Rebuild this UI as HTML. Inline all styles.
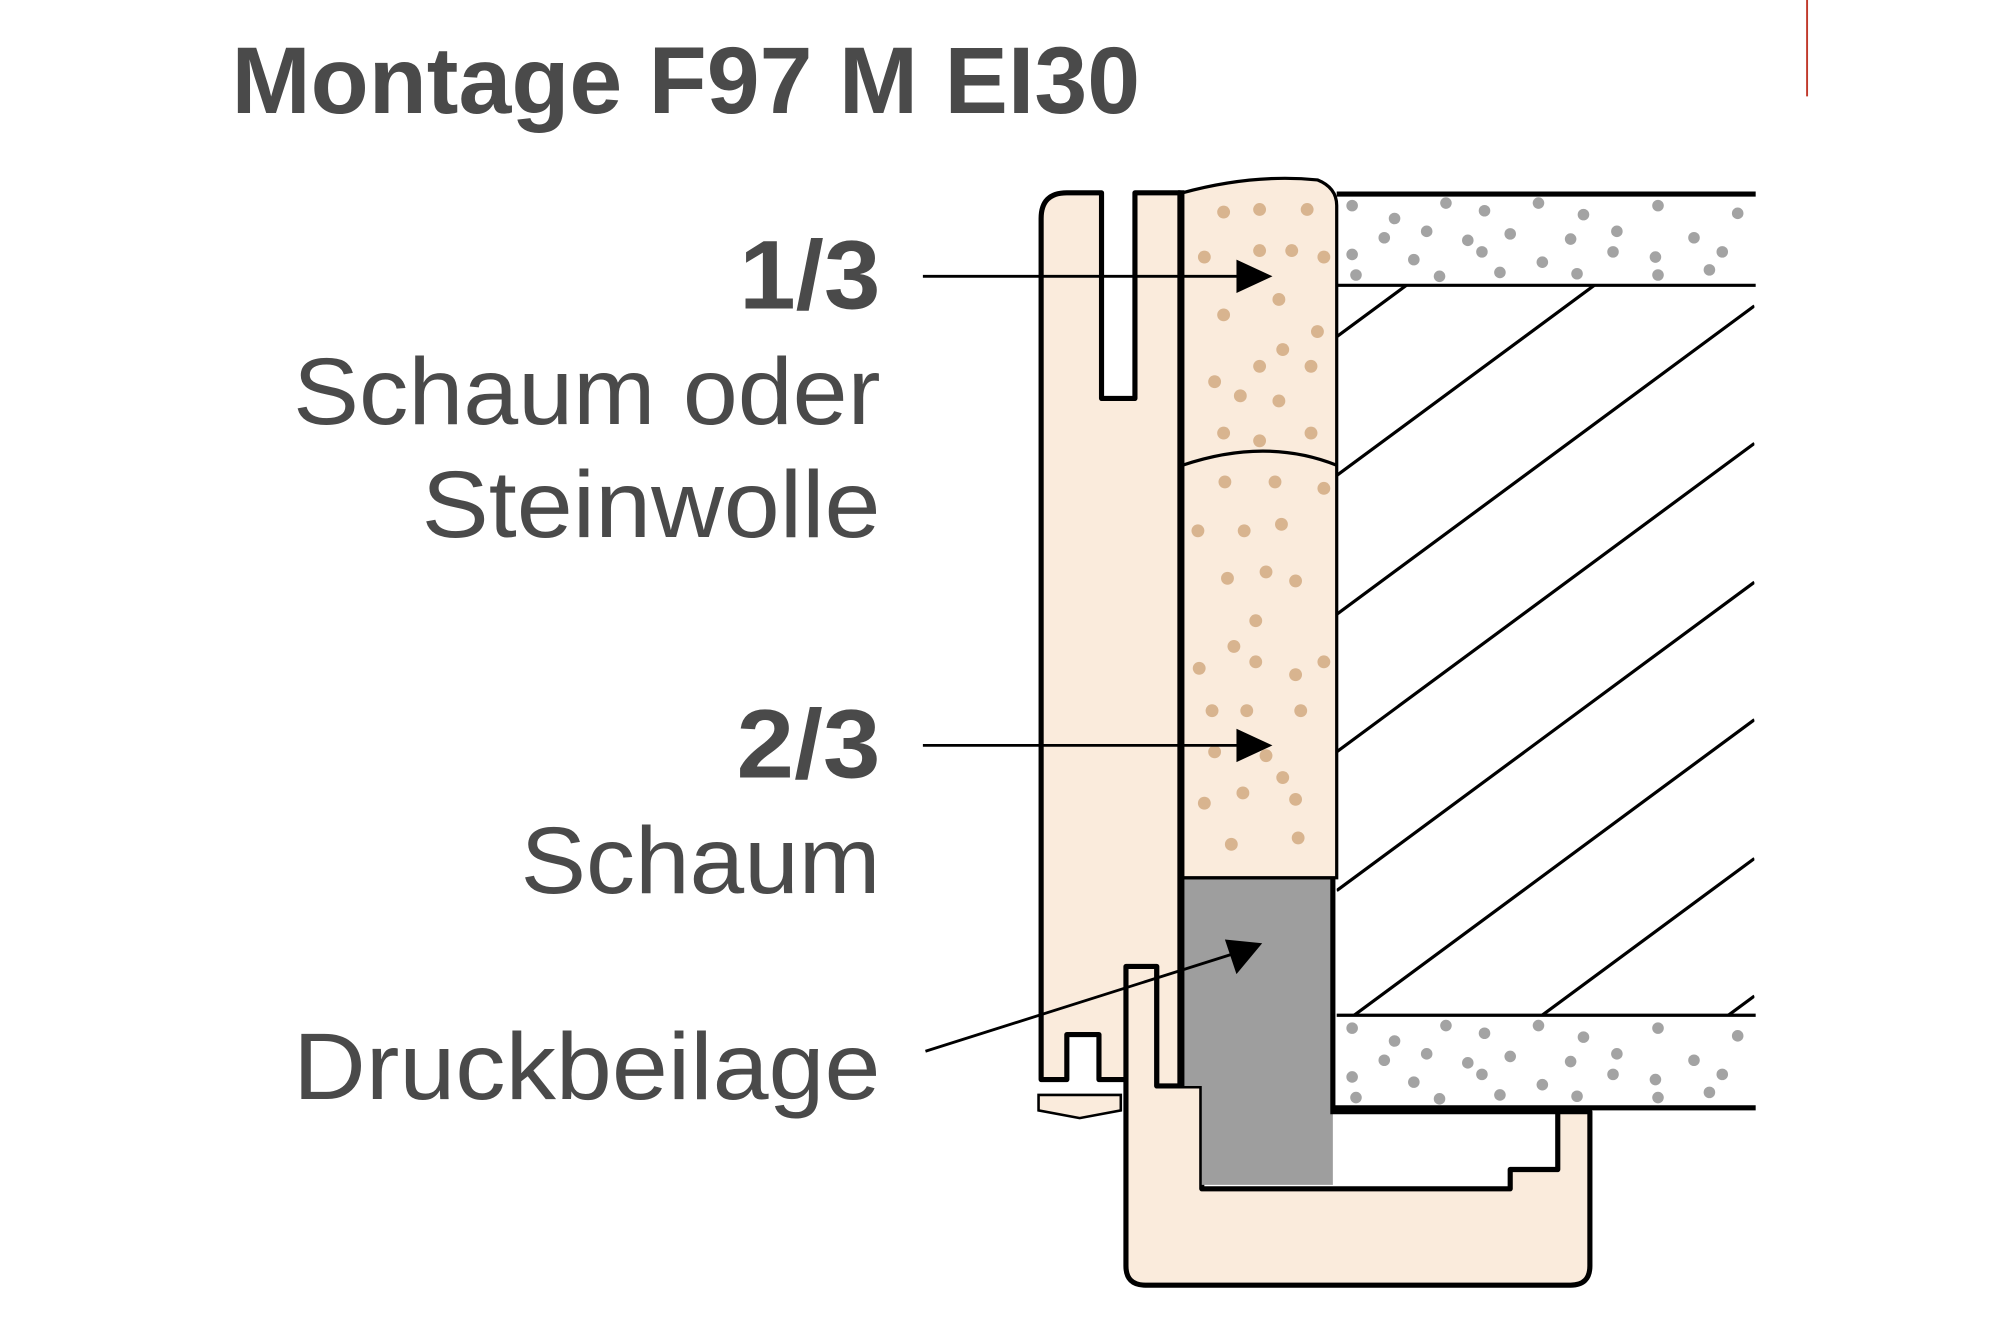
<!DOCTYPE html>
<html><head><meta charset="utf-8"><style>html,body{margin:0;padding:0;background:#fff;width:2000px;height:1334px;overflow:hidden}svg{display:block}</style></head>
<body>
<svg width="2000" height="1334" viewBox="0 0 1556 1038" xmlns="http://www.w3.org/2000/svg">
<defs>
<clipPath id="hc"><rect x="1040" y="222" width="325" height="568"/></clipPath>
<g id="pd" fill="#a3a3a3">
<circle cx="1052" cy="160" r="4.5"/><circle cx="1085" cy="170" r="4.5"/><circle cx="1125" cy="158" r="4.5"/><circle cx="1155" cy="164" r="4.5"/><circle cx="1197" cy="158" r="4.5"/><circle cx="1232" cy="167" r="4.5"/><circle cx="1290" cy="160" r="4.5"/><circle cx="1352" cy="166" r="4.5"/>
<circle cx="1077" cy="185" r="4.5"/><circle cx="1110" cy="180" r="4.5"/><circle cx="1142" cy="187" r="4.5"/><circle cx="1175" cy="182" r="4.5"/><circle cx="1222" cy="186" r="4.5"/><circle cx="1258" cy="180" r="4.5"/><circle cx="1318" cy="185" r="4.5"/>
<circle cx="1052" cy="198" r="4.5"/><circle cx="1100" cy="202" r="4.5"/><circle cx="1153" cy="196" r="4.5"/><circle cx="1200" cy="204" r="4.5"/><circle cx="1255" cy="196" r="4.5"/><circle cx="1288" cy="200" r="4.5"/><circle cx="1340" cy="196" r="4.5"/>
<circle cx="1055" cy="214" r="4.5"/><circle cx="1120" cy="215" r="4.5"/><circle cx="1167" cy="212" r="4.5"/><circle cx="1227" cy="213" r="4.5"/><circle cx="1290" cy="214" r="4.5"/><circle cx="1330" cy="210" r="4.5"/>
</g>
</defs>
<line x1="1406" y1="0" x2="1406" y2="75" stroke="#c0392b" stroke-width="1.5"/>
<g fill="#4a4a4a" font-family="Liberation Sans, sans-serif">
<text x="180" y="88" font-size="74" font-weight="bold" textLength="707" lengthAdjust="spacingAndGlyphs">Montage F97 M EI30</text>
<text x="685" y="240" font-size="76" font-weight="bold" text-anchor="end" textLength="110" lengthAdjust="spacingAndGlyphs">1/3</text>
<text x="685" y="330" font-size="74" text-anchor="end" textLength="457" lengthAdjust="spacingAndGlyphs">Schaum oder</text>
<text x="685" y="418" font-size="74" text-anchor="end" textLength="357" lengthAdjust="spacingAndGlyphs">Steinwolle</text>
<text x="685" y="605" font-size="76" font-weight="bold" text-anchor="end" textLength="112" lengthAdjust="spacingAndGlyphs">2/3</text>
<text x="685" y="695" font-size="74" text-anchor="end" textLength="280" lengthAdjust="spacingAndGlyphs">Schaum</text>
<text x="685" y="855" font-size="74" text-anchor="end" textLength="457" lengthAdjust="spacingAndGlyphs">Druckbeilage</text>
</g>
<use href="#pd"/>
<use href="#pd" transform="translate(0,640)"/>
<line x1="1040" y1="151" x2="1366" y2="151" stroke="#000" stroke-width="4"/>
<line x1="1040" y1="222" x2="1366" y2="222" stroke="#000" stroke-width="2.5"/>
<line x1="1040" y1="790" x2="1366" y2="790" stroke="#000" stroke-width="2.5"/>
<line x1="1036" y1="862" x2="1366" y2="862" stroke="#000" stroke-width="4"/>
<g clip-path="url(#hc)" stroke="#000" stroke-width="2.5">
<line x1="1040" y1="262" x2="1365" y2="22"/><line x1="1040" y1="370" x2="1365" y2="130"/><line x1="1040" y1="478" x2="1365" y2="238"/><line x1="1040" y1="585" x2="1365" y2="345"/><line x1="1040" y1="693" x2="1365" y2="453"/><line x1="1040" y1="800" x2="1365" y2="560"/><line x1="1040" y1="908" x2="1365" y2="668"/><line x1="1040" y1="1015" x2="1365" y2="775"/><line x1="1040" y1="1123" x2="1365" y2="883"/>
</g>
<path d="M876,752 L900,752 L900,845 L935,845 L935,925 L1175,925 L1175,910 L1212,910 L1212,865 L1237,865 L1237,985 Q1237,1000 1222,1000 L891,1000 Q876,1000 876,985 Z" fill="#faebdc" stroke="#000" stroke-width="4" stroke-linejoin="round"/>
<path d="M920,683 L1037,683 L1037,922 L935,922 L935,845 L920,845 Z" fill="#9e9e9e"/>
<path d="M1037,683 L1037,865 L1212,865" fill="none" stroke="#000" stroke-width="4"/>
<line x1="920" y1="683" x2="1037" y2="683" stroke="#000" stroke-width="2.5"/>
<path d="M920,150 Q975,135 1025,140 Q1040,146 1040,160 L1040,683 L920,683 Z" fill="#faebdc" stroke="#000" stroke-width="2.5"/>
<path d="M920,362 Q985,340 1040,362" fill="none" stroke="#000" stroke-width="2.5"/>
<g fill="#d8b48f">
<circle cx="952" cy="165" r="5"/><circle cx="980" cy="163" r="5"/><circle cx="1017" cy="163" r="5"/><circle cx="937" cy="200" r="5"/><circle cx="980" cy="195" r="5"/><circle cx="1005" cy="195" r="5"/><circle cx="1030" cy="200" r="5"/><circle cx="967" cy="215" r="5"/><circle cx="995" cy="233" r="5"/><circle cx="952" cy="245" r="5"/><circle cx="1025" cy="258" r="5"/><circle cx="998" cy="272" r="5"/><circle cx="980" cy="285" r="5"/><circle cx="1020" cy="285" r="5"/><circle cx="945" cy="297" r="5"/><circle cx="965" cy="308" r="5"/><circle cx="995" cy="312" r="5"/><circle cx="952" cy="337" r="5"/><circle cx="980" cy="343" r="5"/><circle cx="1020" cy="337" r="5"/>
<circle cx="953" cy="375" r="5"/><circle cx="992" cy="375" r="5"/><circle cx="1030" cy="380" r="5"/><circle cx="932" cy="413" r="5"/><circle cx="968" cy="413" r="5"/><circle cx="997" cy="408" r="5"/><circle cx="955" cy="450" r="5"/><circle cx="985" cy="445" r="5"/><circle cx="1008" cy="452" r="5"/><circle cx="977" cy="483" r="5"/><circle cx="960" cy="503" r="5"/><circle cx="933" cy="520" r="5"/><circle cx="977" cy="515" r="5"/><circle cx="1008" cy="525" r="5"/><circle cx="1030" cy="515" r="5"/><circle cx="943" cy="553" r="5"/><circle cx="970" cy="553" r="5"/><circle cx="1012" cy="553" r="5"/><circle cx="945" cy="585" r="5"/><circle cx="985" cy="588" r="5"/><circle cx="998" cy="605" r="5"/><circle cx="967" cy="617" r="5"/><circle cx="937" cy="625" r="5"/><circle cx="1008" cy="622" r="5"/><circle cx="958" cy="657" r="5"/><circle cx="1010" cy="652" r="5"/>
</g>
<path d="M810,840 L810,170 Q810,150 830,150 L857,150 L857,310 L883,310 L883,150 L918,150 L918,845 L900,845 L900,752 L876,752 L876,840 L855,840 L855,805 L830,805 L830,840 Z" fill="#faebdc" stroke="#000" stroke-width="4" stroke-linejoin="round"/>
<line x1="919" y1="148" x2="919" y2="845" stroke="#000" stroke-width="5"/>
<path d="M808,852 L872,852 L872,864 L840,870 L808,864 Z" fill="#faebdc" stroke="#000" stroke-width="2"/>
<g stroke="#000" stroke-width="2.2">
<line x1="718" y1="215" x2="965" y2="215"/>
<line x1="718" y1="580" x2="965" y2="580"/>
<line x1="720" y1="818" x2="960" y2="742"/>
</g>
<path d="M990,215 L962,202 L962,228 Z"/>
<path d="M990,580 L962,567 L962,593 Z"/>
<path d="M982,734 L953,731 L962,758 Z"/>
</svg>
</body></html>
